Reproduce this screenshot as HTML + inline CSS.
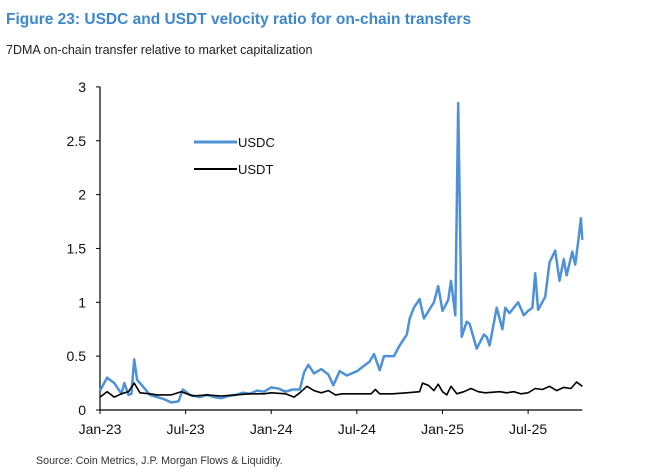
<!DOCTYPE html>
<html><head><meta charset="utf-8"><style>
body{margin:0;background:#fff;font-family:"Liberation Sans",Arial,sans-serif}
svg{display:block}
</style></head><body>
<svg width="658" height="474" viewBox="0 0 658 474">
<text x="6" y="24" font-size="15.5" font-weight="bold" fill="#3d87cc">Figure 23: USDC and USDT velocity ratio for on-chain transfers</text>
<text x="6" y="54" font-size="12.5" fill="#222">7DMA on-chain transfer relative to market capitalization</text>
<g id="axes"></g>
<g id="series"></g>
<g>
<line x1="194" y1="142" x2="237" y2="142" stroke="#4f91d6" stroke-width="3"/>
<text x="238" y="147" font-size="13" fill="#111">USDC</text>
<line x1="194" y1="169" x2="237" y2="169" stroke="#000" stroke-width="2"/>
<text x="238" y="174" font-size="13" fill="#111">USDT</text>
</g>
<text x="36" y="464" font-size="10.7" fill="#333">Source: Coin Metrics, J.P. Morgan Flows &amp; Liquidity.</text>
</svg>
<script>
const xTickLabels=["Jan-23","Jul-23","Jan-24","Jul-24","Jan-25","Jul-25"];
const xTickMonths=[0,6,12,18,24,30];
const yTicks=[0,0.5,1,1.5,2,2.5,3];
const yTickLabels=["0","0.5","1","1.5","2","2.5","3"];
const usdcMonths=[0,0.5,1,1.5,1.7,2,2.2,2.4,2.6,3,3.5,4,4.5,5,5.5,5.8,6.3,7,7.5,8,8.5,9,9.5,10,10.5,11,11.5,12,12.5,13,13.5,14,14.3,14.6,15,15.5,16,16.35,16.8,17.3,18,18.9,19.2,19.6,19.9,20.6,21,21.5,21.7,22,22.4,22.7,23.4,23.7,24,24.4,24.6,24.9,25.1,25.2,25.35,25.7,25.9,26.4,26.9,27.1,27.3,27.8,28.2,28.4,28.7,29.3,29.7,30,30.3,30.5,30.7,31.2,31.5,31.9,32.2,32.5,32.7,33.1,33.3,33.5,33.7,33.8];
const usdcValues=[0.18,0.30,0.25,0.15,0.25,0.14,0.15,0.47,0.28,0.22,0.14,0.12,0.10,0.07,0.08,0.19,0.14,0.12,0.14,0.12,0.11,0.13,0.14,0.16,0.15,0.18,0.17,0.21,0.20,0.17,0.19,0.19,0.35,0.42,0.34,0.38,0.33,0.23,0.36,0.32,0.36,0.45,0.52,0.37,0.50,0.50,0.60,0.70,0.85,0.95,1.03,0.85,1.0,1.15,0.92,1.02,1.2,0.88,2.85,2.0,0.68,0.82,0.80,0.57,0.70,0.68,0.60,0.95,0.75,0.95,0.90,1.0,0.88,0.92,0.95,1.27,0.93,1.05,1.37,1.48,1.20,1.40,1.25,1.47,1.35,1.55,1.78,1.58];
const usdtMonths=[0,0.5,1,1.5,2,2.4,2.8,3.5,4,5,5.7,6.5,7.5,8.5,9.5,10.5,11.5,12,13,13.6,14,14.5,15,15.5,16,16.5,17,18,19,19.3,19.6,20.5,21.5,22.4,22.6,23,23.4,23.7,24,24.3,24.6,25,25.5,26,26.5,27,28,28.5,29,29.5,30,30.5,31,31.5,32,32.5,33,33.4,33.8];
const usdtValues=[0.12,0.17,0.12,0.15,0.17,0.25,0.16,0.15,0.14,0.14,0.17,0.13,0.14,0.13,0.14,0.15,0.15,0.16,0.15,0.12,0.16,0.22,0.18,0.16,0.18,0.14,0.15,0.15,0.15,0.19,0.15,0.15,0.16,0.17,0.25,0.23,0.18,0.24,0.17,0.14,0.22,0.15,0.17,0.20,0.17,0.16,0.17,0.16,0.17,0.15,0.16,0.20,0.19,0.22,0.18,0.21,0.20,0.26,0.22];
const X0=100,PXM=14.27,Y0=410,PXU=107.7;
const xs=m=>X0+m*PXM, ys=v=>Y0-v*PXU;
const NS="http://www.w3.org/2000/svg";
const axes=document.getElementById('axes'), ser=document.getElementById('series');
function mk(tag,attrs,parent){const e=document.createElementNS(NS,tag);for(const k in attrs)e.setAttribute(k,attrs[k]);parent.appendChild(e);return e;}
let a=mk('line',{x1:X0,y1:ys(3),x2:X0,y2:Y0,stroke:'#000','stroke-width':1.2},axes);


a=mk('line',{x1:X0,y1:Y0,x2:xs(33.8),y2:Y0,stroke:'#000','stroke-width':1.2},axes);


yTicks.forEach((v,i)=>{
 mk('line',{x1:X0-4,y1:ys(v),x2:X0,y2:ys(v),stroke:'#000'},axes);
 const t=mk('text',{x:X0-14,y:ys(v)+5,'font-size':14,'text-anchor':'end',fill:'#111'},axes);
 t.textContent=yTickLabels[i];
 
 
});
xTickMonths.forEach((m,i)=>{
 mk('line',{x1:xs(m),y1:Y0,x2:xs(m),y2:Y0+4,stroke:'#000'},axes);
 const t=mk('text',{x:xs(m),y:Y0+24,'font-size':14,'text-anchor':'middle',fill:'#111'},axes);
 t.textContent=xTickLabels[i];
 
 
});
function path(ms,vs){return ms.map((m,i)=>(i?'L':'M')+xs(m).toFixed(1)+' '+ys(vs[i]).toFixed(1)).join(' ');}
let p=mk('path',{d:path(usdcMonths,usdcValues),fill:'none',stroke:'#4f91d6','stroke-width':2.5,'stroke-linejoin':'round'},ser);


p=mk('path',{d:path(usdtMonths,usdtValues),fill:'none',stroke:'#000','stroke-width':1.6,'stroke-linejoin':'round'},ser);


</script>
</body></html>
